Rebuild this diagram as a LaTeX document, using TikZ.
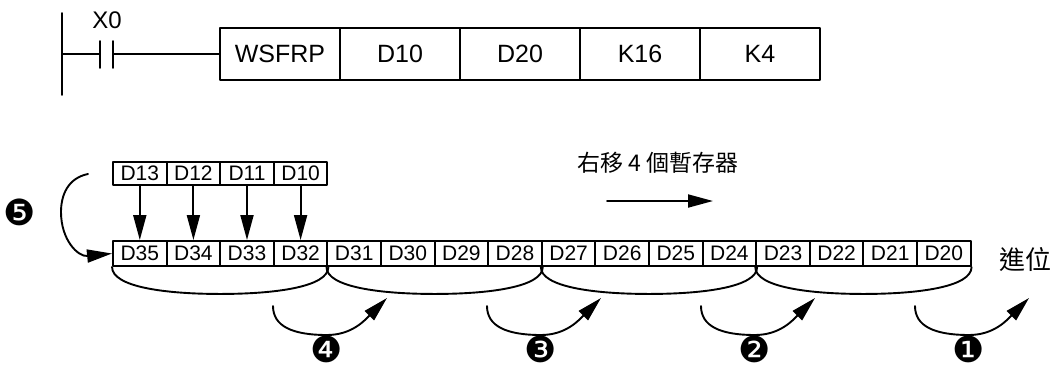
\documentclass[tikz,border=0pt]{standalone}
\usepackage{fontspec}
\setmainfont{Liberation Sans}
\newfontfamily\cjkfont{Noto Sans CJK TC}
\newfontfamily\dingfont{DejaVu Sans}
\usetikzlibrary{arrows.meta,calc}
\tikzset{
  ladder line/.style={line width=1.9pt},
  instr cell/.style={draw,line width=1.9pt,minimum width=120pt,minimum height=52pt,
    inner sep=0pt,font=\fontsize{25}{25}\selectfont},
  reg cell/.style={draw,line width=1.9pt,minimum width=53.6pt,minimum height=25pt,
    inner sep=0pt,font=\fontsize{21}{21}\selectfont},
  shift arrow/.style={line width=1.9pt,-{Triangle[length=25pt,width=13pt]}},
  group arc/.style={line width=1.9pt},
  step num/.style={font=\dingfont\fontsize{36}{36}\selectfont,inner sep=0pt,
    text height=0.74em,text depth=0pt}
}

\begin{document}
\begin{tikzpicture}[x=1pt,y=-1pt,line cap=round,line join=round]
  \useasboundingbox (0,0) rectangle (1054,373);

  % ladder rung
  \coordinate (railtop) at (62,13);
  \coordinate (railbot) at (62,95);
  \coordinate (rail)    at (62,54);
  \coordinate (cl)      at (100,54);
  \coordinate (cltop)   at (100,41);
  \coordinate (clbot)   at (100,68);
  \coordinate (cr)      at (113,54);
  \coordinate (crtop)   at (113,41);
  \coordinate (crbot)   at (113,68);
  \draw[ladder line] (railtop) -- (railbot);
  \draw[ladder line] (rail) -- (cl) (cltop) -- (clbot) (crtop) -- (crbot);
  \node[font=\fontsize{24}{24}\selectfont] (x0) at (107,20) {X0};

  \foreach \t [count=\k] in {WSFRP,D10,D20,K16,K4}
    \node[instr cell] (ins\k) at ({160+120*\k},54) {\t};
  \draw[ladder line] (cr) -- (ins1);

  % source and target registers
  \foreach \i in {0,...,3} {
    \pgfmathtruncatemacro\r{13-\i}
    \node[reg cell,minimum height=23pt] (s\r) at ({139.8+53.6*\i},173.5) {D\r};
  }
  \foreach \i in {0,...,15} {
    \pgfmathtruncatemacro\r{35-\i}
    \node[reg cell] (r\r) at ({139.8+53.6*\i},253.5) {D\r};
  }
  \draw[shift arrow] (s13) -- (r35);
  \draw[shift arrow] (s12) -- (r34);
  \draw[shift arrow] (s11) -- (r33);
  \draw[shift arrow] (s10) -- (r32);

  % groups of four
  \foreach \a/\b in {35/32,31/28,27/24,23/20}
    \draw[group arc] (r\a.south west) .. controls +(0,20) and +(-55,0)
      .. ($($(r\a.south west)!0.5!(r\b.south east)$)+(0,27)$)
      .. controls +(55,0) and +(0,20) .. (r\b.south east);

  % shift direction
  \node[font=\cjkfont\fontsize{23}{23}\selectfont] (shiftlbl) at (658,163) {右移 4 個暫存器};
  \coordinate (dirA) at (607,201);
  \coordinate (dirB) at (713,201);
  \draw[shift arrow] (dirA) -- (dirB);
  \node[font=\cjkfont\fontsize{26}{26}\selectfont] (carry) at (1025,260) {進位};

  % moves
  \foreach \k/\n in {0/❹,1/❸,2/❷,3/❶} {
    \coordinate (mvs\k) at ({273+214*\k},306);
    \coordinate (mvb\k) at ({327+214*\k},335);
    \coordinate (mve\k) at ({387+214*\k},298);
    \draw[shift arrow] (mvs\k) .. controls +(0,20) and +(-35,0) .. (mvb\k)
      .. controls +(25,0) and +(-22,22) .. (mve\k);
    \node[step num] (num\k) at ({327+214*\k},359) {\n};
  }

  % wrap around
  \coordinate (wrapA) at (88,174);
  \coordinate (wrapM) at (61,212);
  \draw[shift arrow] (wrapA) .. controls (68,178) and (61,195) .. (wrapM)
    .. controls (61,240) and (78,257) .. (r35.west);
  \node[step num] (num4) at (20,222) {❺};
\end{tikzpicture}
\end{document}
